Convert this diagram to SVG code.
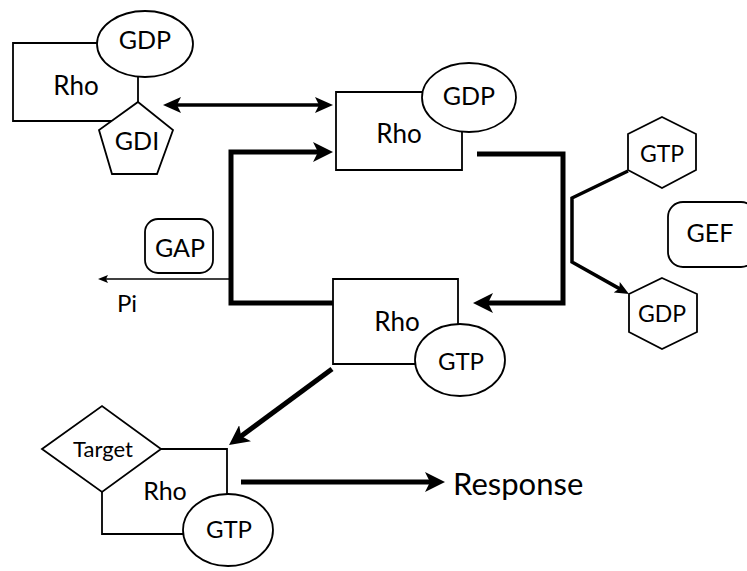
<svg xmlns="http://www.w3.org/2000/svg" width="747" height="571" viewBox="0 0 747 571">
<style>
.sh{fill:#fff;stroke:#000;stroke-width:1.8}
.ln{fill:none;stroke:#000;stroke-width:1.8}
.t{font-family:Lato,"Open Sans","Liberation Sans",sans-serif;font-size:25px;fill:#000;text-anchor:middle}
.s{text-anchor:start}
.c{fill:none;stroke:#000;stroke-linejoin:miter}
</style>
<defs>
<marker id="a20" markerUnits="userSpaceOnUse" viewBox="0 0 20 20" markerWidth="20" markerHeight="20" refX="6" refY="10" orient="auto"><path d="M0,0 L20,10 L0,20 L5,10 z" fill="#000"/></marker>
<marker id="a16" markerUnits="userSpaceOnUse" viewBox="0 0 18 16" markerWidth="18" markerHeight="16" refX="5" refY="8" orient="auto-start-reverse"><path d="M0,0 L18,8 L0,16 L4,8 z" fill="#000"/></marker>
<marker id="a14" markerUnits="userSpaceOnUse" viewBox="0 0 14 12" markerWidth="14" markerHeight="12" refX="4" refY="6" orient="auto"><path d="M0,0 L14,6 L0,12 L3,6 z" fill="#000"/></marker>
<marker id="a10" markerUnits="userSpaceOnUse" viewBox="0 0 10 8" markerWidth="10" markerHeight="8" refX="3" refY="4" orient="auto"><path d="M0,0 L10,4 L0,8 L2,4 z" fill="#000"/></marker>
</defs>

<g id="connectors">
<path class="c" d="M176,105 H320" stroke-width="3.5" marker-start="url(#a16)" marker-end="url(#a16)"/>
<path class="c" d="M333,303 H231 V152 H319" stroke-width="5" marker-end="url(#a20)"/>
<path class="c" d="M477,154 H563 V303 H487" stroke-width="5" marker-end="url(#a20)"/>
<path class="c" d="M231,279 H105" stroke-width="1.6" marker-end="url(#a10)"/>
<path class="c" d="M332,369 L240.3,436.7" stroke-width="5" marker-end="url(#a20)"/>
<path class="c" d="M241,482 H431" stroke-width="5" marker-end="url(#a20)"/>
<path class="c" d="M628,171 L572,198 V262 L620.3,289.1" stroke-width="3.5" marker-end="url(#a14)"/>
</g>

<g id="rho-gdp-gdi">
<path class="ln" d="M97,43 H13 V121 H112 M138,77 V102"/>
<ellipse class="sh" cx="145" cy="44" rx="48" ry="33"/>
<polygon class="sh" points="138,102 173,130 157,174 112,174 99,130"/>
<text class="t" x="76" y="95" style="font-size:26px">Rho</text>
<text class="t" x="145" y="49">GDP</text>
<text class="t" x="137" y="150">GDI</text>
</g>

<g id="rho-gdp">
<path class="ln" d="M423,92 H336 V170 H462 V132"/>
<ellipse class="sh" cx="469" cy="97.5" rx="47" ry="34.5"/>
<text class="t" x="399" y="143" style="font-size:26px">Rho</text>
<text class="t" x="469" y="105">GDP</text>
</g>

<g id="rho-gtp">
<path class="ln" d="M415,364 H333 V279 H458 V324"/>
<ellipse class="sh" cx="460" cy="360" rx="45" ry="36"/>
<text class="t" x="397" y="331" style="font-size:26px">Rho</text>
<text class="t" x="461" y="370" style="font-size:24px">GTP</text>
</g>

<g id="gtp-hex">
<polygon class="sh" points="662,117 696,134 696,170 662,188 628,170 628,134"/>
<text class="t" x="662" y="162" style="font-size:23px">GTP</text>
</g>

<g id="gef">
<rect class="sh" x="668" y="202" width="88" height="65" rx="15"/>
<text class="t" x="710" y="242">GEF</text>
</g>

<g id="gdp-hex">
<polygon class="sh" points="662,278 697,294 697,332 662,349 629,332 629,294"/>
<text class="t" x="662" y="322" style="font-size:23px">GDP</text>
</g>

<g id="gap">
<rect class="sh" x="145" y="219" width="68" height="54" rx="13"/>
<text class="t" x="180" y="257">GAP</text>
</g>

<g id="pi">
<text class="t s" x="117" y="312" style="font-size:24px">Pi</text>
</g>

<g id="target-complex">
<path class="ln" d="M161,449 H227 V494 M102,492 V534 H183"/>
<polygon class="sh" points="42,449 102,406 161,449 102,492"/>
<ellipse class="sh" cx="228" cy="530" rx="45" ry="36"/>
<text class="t" x="103" y="457" style="font-size:22px">Target</text>
<text class="t" x="165" y="500" style="font-size:25px">Rho</text>
<text class="t" x="229" y="538" style="font-size:24px">GTP</text>
</g>

<g id="response">
<text class="t s" x="453" y="495" style="font-size:31px">Response</text>
</g>
</svg>
